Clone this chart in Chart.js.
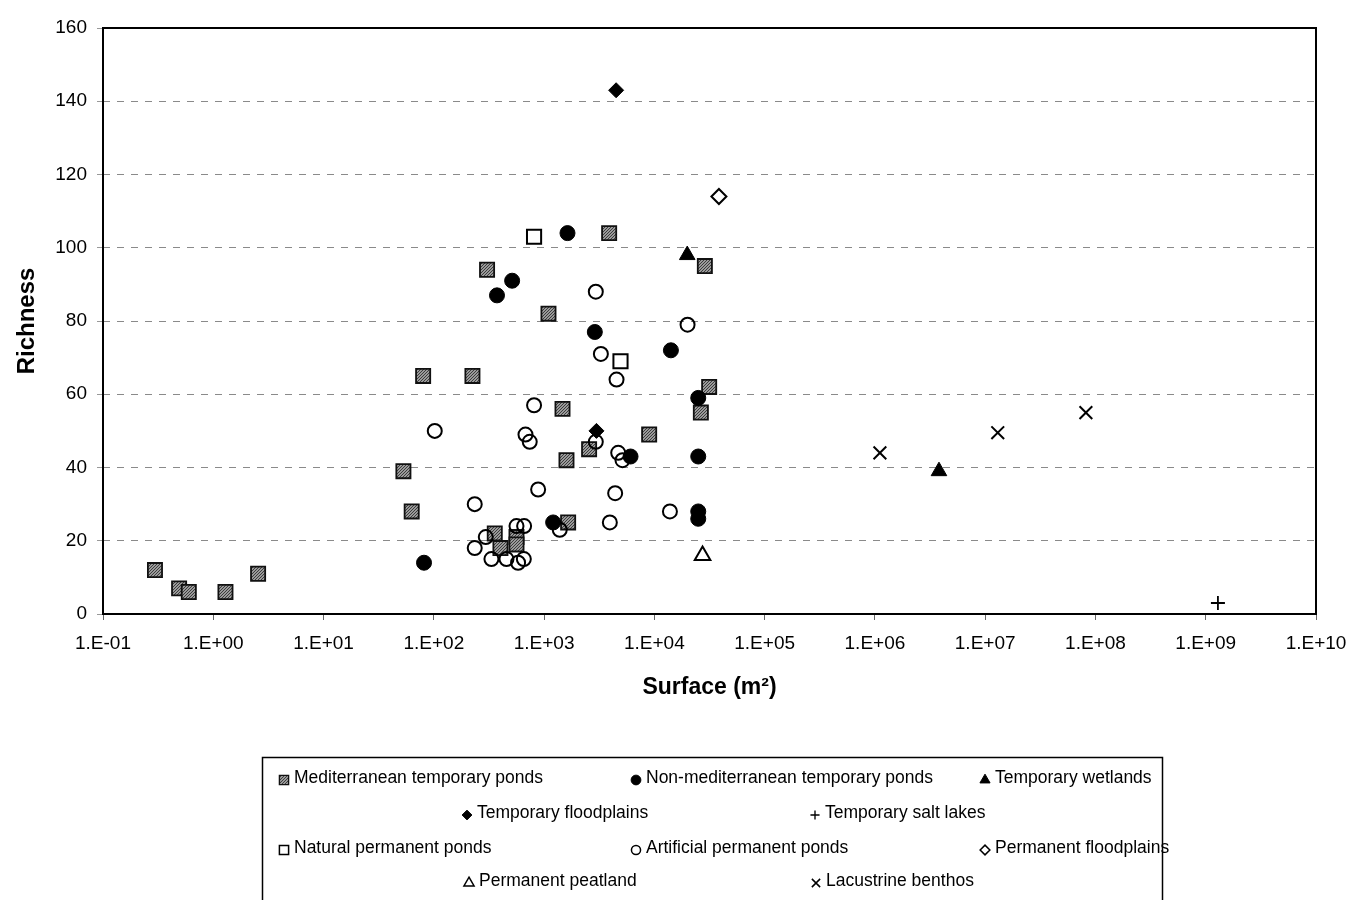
<!DOCTYPE html>
<html><head><meta charset="utf-8">
<script src="https://cdn.jsdelivr.net/npm/chart.js@4.4.1/dist/chart.umd.min.js"></script>
<style>html,body{margin:0;padding:0;background:#fff;}#wrap{width:1355px;height:900px;}</style>
</head><body><div id="wrap"><canvas id="c" width="1355" height="900"></canvas></div>
<script>
// ---- data ----
const seriesNames = [
  'Mediterranean temporary ponds', 'Non-mediterranean temporary ponds', 'Temporary wetlands',
  'Temporary floodplains', 'Temporary salt lakes', 'Natural permanent ponds',
  'Artificial permanent ponds', 'Permanent floodplains', 'Permanent peatland', 'Lacustrine benthos'
];
const medSurface = [0.296, 0.49, 0.60, 1.29, 2.55, 53, 63, 80, 224, 304, 357, 402, 562, 562, 1096, 1469, 1596, 1652, 2560, 3890, 8970, 26400, 28700, 31400];
const medRichness = [12, 7, 6, 6, 11, 39, 28, 65, 65, 94, 22, 18, 21, 19, 82, 56, 42, 25, 45, 104, 49, 55, 95, 62];
const nonMedSurface = [81.5, 374, 513, 1208, 1630, 2884, 6080, 14130, 25000, 25000, 25000, 25000];
const nonMedRichness = [14, 87, 91, 25, 104, 77, 43, 72, 59, 43, 28, 26];
const wetSurface = [19870, 3.81e6];
const wetRichness = [98, 39];
const tfloodSurface = [4500, 2985];
const tfloodRichness = [143, 50];
const saltSurface = [1.29e9];
const saltRichness = [3];
const natSurface = [811, 4930];
const natRichness = [103, 69];
const artSurface = [2944, 20000, 3273, 4540, 811, 102, 678, 741, 2944, 4700, 5140, 883, 4410, 235, 13840, 3947, 562, 659, 1387, 296, 235, 333, 456, 581, 655];
const artRichness = [88, 79, 71, 64, 57, 50, 49, 47, 47, 44, 42, 34, 33, 30, 28, 25, 24, 24, 23, 21, 18, 15, 15, 14, 15];
const pfloodSurface = [38500];
const pfloodRichness = [114];
const peatSurface = [27350];
const peatRichness = [16];
const lacSurface = [1.11e6, 1.30e7, 8.19e7];
const lacRichness = [44, 49.5, 55];

const xTickValues = [0.1, 1, 10, 100, 1e3, 1e4, 1e5, 1e6, 1e7, 1e8, 1e9, 1e10];
const xTickLabels = ['1.E-01','1.E+00','1.E+01','1.E+02','1.E+03','1.E+04','1.E+05','1.E+06','1.E+07','1.E+08','1.E+09','1.E+10'];
const yTickValues = [0, 20, 40, 60, 80, 100, 120, 140, 160];
const yTickLabels = ['0','20','40','60','80','100','120','140','160'];

// ---- styling ----
const FONT = "'Liberation Sans', Arial, Helvetica, sans-serif";
function makePattern() {
  const p = document.createElement('canvas');
  p.width = 3; p.height = 3;
  const g = p.getContext('2d');
  g.fillStyle = '#9a9a9a'; g.fillRect(0, 0, 3, 3);
  g.fillStyle = '#3c3c3c'; g.fillRect(0, 0, 1, 1); g.fillRect(2, 1, 1, 1); g.fillRect(1, 2, 1, 1);
  return document.getElementById('c').getContext('2d').createPattern(p, 'repeat');
}
const greyPat = makePattern();
const NONE = 'rgba(0,0,0,0)';
const styles = [
  {pointStyle: 'rect', radius: 10, bg: greyPat, bc: '#111', bw: 1.8},
  {pointStyle: 'circle', radius: 7.5, bg: '#000', bc: '#000', bw: 1},
  {pointStyle: 'triangle', radius: 9, bg: '#000', bc: '#000', bw: 1},
  {pointStyle: 'rectRot', radius: 7.5, bg: '#000', bc: '#000', bw: 1},
  {pointStyle: 'cross', radius: 7, bg: NONE, bc: '#000', bw: 1.8},
  {pointStyle: 'rect', radius: 10, bg: NONE, bc: '#000', bw: 2},
  {pointStyle: 'circle', radius: 7, bg: NONE, bc: '#000', bw: 2},
  {pointStyle: 'rectRot', radius: 7.5, bg: NONE, bc: '#000', bw: 2},
  {pointStyle: 'triangle', radius: 9, bg: NONE, bc: '#000', bw: 2},
  {pointStyle: 'crossRot', radius: 9, bg: NONE, bc: '#000', bw: 2}
];
const seriesX = [medSurface, nonMedSurface, wetSurface, tfloodSurface, saltSurface, natSurface, artSurface, pfloodSurface, peatSurface, lacSurface];
const seriesY = [medRichness, nonMedRichness, wetRichness, tfloodRichness, saltRichness, natRichness, artRichness, pfloodRichness, peatRichness, lacRichness];

const datasets = seriesNames.map((name, i) => ({
  label: name,
  data: seriesX[i].map((x, k) => ({x: x, y: seriesY[i][k]})),
  pointStyle: styles[i].pointStyle,
  pointRadius: styles[i].radius,
  pointHoverRadius: styles[i].radius,
  pointBackgroundColor: styles[i].bg,
  pointBorderColor: styles[i].bc,
  pointBorderWidth: styles[i].bw,
  showLine: false,
  order: -i
}));

// legend layout (positions only)
const legendRows = [[0, 1, 2], [3, 4], [5, 6, 7], [8, 9]];
const legendRowY = [778, 813, 848, 881];
const legendMarkerX = [[284, 636, 985], [467, 815], [284, 636, 985], [469, 816]];

const framePlugin = {
  id: 'frame',
  beforeDatasetsDraw(chart) {
    const {ctx, chartArea: a} = chart;
    ctx.save();
    ctx.strokeStyle = '#000';
    ctx.lineWidth = 2;
    ctx.strokeRect(a.left, a.top, a.right - a.left, a.bottom - a.top);
    ctx.restore();
  }
};

function drawMarker(ctx, st, x, y, r) {
  ctx.save();
  ctx.fillStyle = st.bg;
  ctx.strokeStyle = st.bc;
  ctx.lineWidth = Math.max(1, st.bw * 0.75);
  if (Chart.helpers && Chart.helpers.drawPoint) {
    Chart.helpers.drawPoint(ctx, {pointStyle: st.pointStyle, radius: r, rotation: 0, borderWidth: ctx.lineWidth}, x, y);
  }
  ctx.restore();
}

const legendPlugin = {
  id: 'boxLegend',
  afterDraw(chart) {
    const ctx = chart.ctx;
    ctx.save();
    ctx.strokeStyle = '#000';
    ctx.lineWidth = 1.5;
    ctx.strokeRect(262.5, 757.5, 900, 160);
    ctx.font = '17.5px ' + FONT;
    ctx.fillStyle = '#000';
    ctx.textBaseline = 'middle';
    ctx.textAlign = 'left';
    legendRows.forEach((row, ri) => {
      row.forEach((si, ci) => {
        const mx = legendMarkerX[ri][ci];
        const my = legendRowY[ri] + 2;
        drawMarker(ctx, styles[si], mx, my, styles[si].radius * 0.65);
        ctx.fillStyle = '#000';
        ctx.fillText(seriesNames[si], mx + 10, legendRowY[ri]);
      });
    });
    ctx.restore();
  }
};

new Chart(document.getElementById('c'), {
  type: 'scatter',
  data: {datasets},
  plugins: [framePlugin, legendPlugin],
  options: {
    responsive: false,
    animation: false,
    devicePixelRatio: 1,
    layout: {padding: {left: 0, top: 28, right: 39, bottom: 199}},
    plugins: {legend: {display: false}, tooltip: {enabled: false}, title: {display: false}},
    scales: {
      x: {
        type: 'logarithmic', position: 'bottom', min: 0.1, max: 1e10,
        afterBuildTicks: s => { s.ticks = xTickValues.map(v => ({value: v})); },
        afterFit: s => { s.height = 87; s.paddingLeft = 0; s.paddingRight = 0; },
        ticks: {autoSkip: false, maxRotation: 0, minRotation: 0, padding: 12, color: '#000',
                font: {family: FONT, size: 19}, callback: (v, i) => xTickLabels[i]},
        grid: {drawOnChartArea: false, drawTicks: true, tickLength: 6, tickColor: '#666', tickWidth: 1},
        border: {display: false},
        title: {display: true, text: 'Surface (m²)', color: '#000',
                font: {family: FONT, size: 23, weight: 'bold'}, padding: {top: 0, bottom: 0}}
      },
      y: {
        type: 'linear', min: 0, max: 160,
        afterBuildTicks: s => { s.ticks = yTickValues.map(v => ({value: v})); },
        afterFit: s => { s.width = 103; s.paddingTop = 0; s.paddingBottom = 0; },
        ticks: {padding: 10, color: '#000', font: {family: FONT, size: 19},
                callback: (v, i) => yTickLabels[i]},
        grid: {
          color: c => (c.tick && (c.tick.value === 0 || c.tick.value === 160)) ? NONE : '#8a8a8a',
          lineWidth: 1, drawTicks: true, tickLength: 6, tickColor: '#999', tickWidth: 1
        },
        border: {display: false, dash: [7, 7]},
        title: {display: true, text: 'Richness', color: '#000',
                font: {family: FONT, size: 24, weight: 'bold'}, padding: {top: 13, bottom: 0}}
      }
    }
  }
});
</script>
</body></html>
